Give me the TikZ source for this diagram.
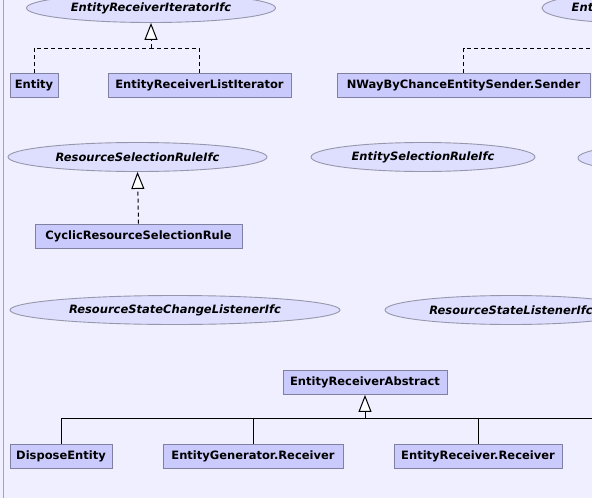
\documentclass[tikz,border=0pt]{standalone}
\usepackage{fontspec}
\setsansfont{DejaVu Sans}
\usepackage{xcolor}
\usepackage{tikz}
\usetikzlibrary{positioning,arrows.meta,shapes.geometric}

\definecolor{bgfill}{RGB}{239,239,255}
\definecolor{boxfill}{RGB}{202,202,252}
\definecolor{boxline}{RGB}{128,128,160}
\definecolor{ellfill}{RGB}{222,222,255}
\definecolor{ellline}{RGB}{150,150,172}

\begin{document}
\begin{tikzpicture}[x=1pt,y=-1pt,
  cls/.style={draw=boxline,fill=boxfill,line width=0.9pt,minimum height=24pt,inner sep=0pt,
    font=\sffamily\bfseries\fontsize{11.5}{13}\selectfont},
  ifc/.style={ellipse,draw=ellline,fill=ellfill,line width=0.9pt,minimum height=29pt,inner sep=0pt,
    font=\sffamily\bfseries\itshape\fontsize{11.5}{13}\selectfont},
  real/.style={line width=1pt,dash pattern=on 4pt off 3pt},
  gen/.style={line width=1pt},
  hollow/.style={-{Triangle[open,fill=white,length=17pt,width=13pt]}}]
  \fill[bgfill] (0,0) rectangle (592,498);
  \clip (0,0) rectangle (592,498);
  \draw[gray!70,line width=1pt] (3,0) -- (3,498);
  % interfaces
  \node[ifc,minimum width=249pt] (erii) at (151,8) {EntityReceiverIteratorIfc};
  \node[ifc,minimum width=160pt] (esi) at (622,8) {EntitySenderIfc};
  \node[ifc,minimum width=259pt] (rsr) at (137.5,157) {ResourceSelectionRuleIfc};
  \node[ifc,minimum width=224pt] (esr) at (423,157) {EntitySelectionRuleIfc};
  \node[ifc,minimum width=200pt] (nxt) at (678,158) {};
  \node[ifc,minimum width=330pt] (rscl) at (175,310) {ResourceStateChangeListenerIfc};
  \node[ifc,minimum width=252pt] (rsl) at (511,310) {ResourceStateListenerIfc};
  % classes
  \node[cls,minimum width=48pt] (ent) at (34,85) {Entity};
  \node[cls,minimum width=183pt] (erli) at (199.5,85) {EntityReceiverListIterator};
  \node[cls,minimum width=253pt] (nws) at (463.5,85) {NWayByChanceEntitySender.Sender};
  \node[cls,minimum width=207pt] (crsr) at (138.5,236) {CyclicResourceSelectionRule};
  \node[cls,minimum width=164pt] (era) at (365,382.5) {EntityReceiverAbstract};
  \node[cls,minimum width=102pt] (de) at (61,456) {DisposeEntity};
  \node[cls,minimum width=180pt] (egr) at (253,456) {EntityGenerator.Receiver};
  \node[cls,minimum width=168pt] (err) at (478,456) {EntityReceiver.Receiver};
  \coordinate (j1) at (151,48);
  \coordinate (j2) at (622,48);
  \coordinate (rim) at (600,418);
  % realizations
  \draw[real] (ent.north) |- (j1) (erli.north) |- (j1);
  \draw[real,hollow] (j1) -- (erii.south);
  \draw[real,hollow] (nws.north) |- (j2) -- (esi.south);
  \draw[real,hollow] (crsr.north) -- (rsr.south);
  % generalization
  \draw[gen] (de.north) |- (rim);
  \foreach \n in {egr,err} \draw[gen] (\n.north) -- (\n.north |- rim);
  \draw[gen,hollow] (era.south |- rim) -- (era.south);
\end{tikzpicture}
\end{document}
